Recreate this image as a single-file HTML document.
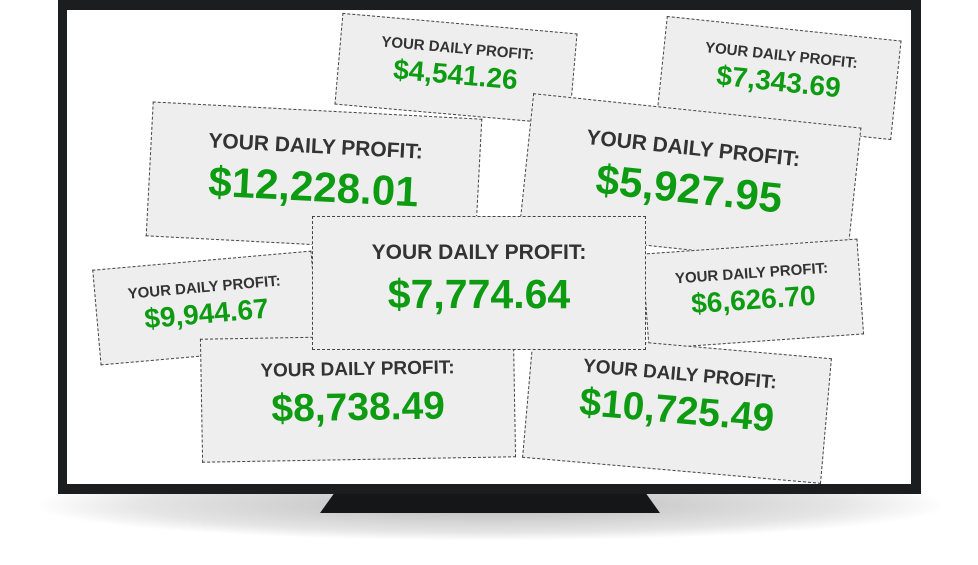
<!DOCTYPE html>
<html><head><meta charset="utf-8"><style>
body{margin:0;width:978px;height:565px;background:#fff;position:relative;overflow:hidden;font-family:"Liberation Sans",Arial,sans-serif}
.shadow{position:absolute;left:40px;top:470px;width:900px;height:70px;background:radial-gradient(ellipse at center,rgba(0,0,0,.28) 0%,rgba(0,0,0,.1) 55%,rgba(0,0,0,0) 72%)}
.bezel{position:absolute;left:58px;top:0;width:863px;height:494px;background:#1b1d1f}
.screen{position:absolute;left:67px;top:10px;width:844px;height:474px;background:#fff;overflow:hidden}
.stand{position:absolute;left:320px;top:494px;width:340px;height:19px;background:#141618;clip-path:polygon(4% 0,96% 0,100% 100%,0 100%)}
.card{position:absolute;background:#eeeeee;border:1px dashed #444;box-sizing:border-box;text-align:center;font-weight:bold}
.card .t{color:#333}
.card .v{color:#0d9b12}
</style></head><body>
<div class="shadow"></div>
<div class="stand"></div>
<div class="bezel"></div>
<div class="screen">
<div class="card" style="left:271px;top:13px;width:236px;height:92px;transform:rotate(5deg)"><div class="t" style="font-size:15px;margin-top:16px">YOUR DAILY PROFIT:</div><div class="v" style="font-size:28px;margin-top:2px">$4,541.26</div></div>
<div class="card" style="left:594px;top:18px;width:236px;height:100px;transform:rotate(6deg)"><div class="t" style="font-size:15px;margin-top:18px">YOUR DAILY PROFIT:</div><div class="v" style="font-size:28px;margin-top:2px">$7,343.69</div></div>
<div class="card" style="left:82px;top:100px;width:330px;height:135px;transform:rotate(3deg)"><div class="t" style="font-size:21px;margin-top:24px">YOUR DAILY PROFIT:</div><div class="v" style="font-size:42px;margin-top:4px">$12,228.01</div></div>
<div class="card" style="left:458px;top:100px;width:330px;height:140px;transform:rotate(6deg)"><div class="t" style="font-size:21px;margin-top:26px">YOUR DAILY PROFIT:</div><div class="v" style="font-size:42px;margin-top:4px">$5,927.95</div></div>
<div class="card" style="left:29px;top:250px;width:220px;height:96px;transform:rotate(-5deg)"><div class="t" style="font-size:15px;margin-top:18px">YOUR DAILY PROFIT:</div><div class="v" style="font-size:28px;margin-top:2px">$9,944.67</div></div>
<div class="card" style="left:578px;top:236px;width:216px;height:96px;transform:rotate(-4deg)"><div class="t" style="font-size:15px;margin-top:18px">YOUR DAILY PROFIT:</div><div class="v" style="font-size:28px;margin-top:2px">$6,626.70</div></div>
<div class="card" style="left:134px;top:326px;width:314px;height:124px;transform:rotate(-1deg)"><div class="t" style="font-size:19px;margin-top:22px">YOUR DAILY PROFIT:</div><div class="v" style="font-size:39px;margin-top:5px">$8,738.49</div></div>
<div class="card" style="left:460px;top:335px;width:300px;height:126px;transform:rotate(5deg)"><div class="t" style="font-size:19px;margin-top:18px">YOUR DAILY PROFIT:</div><div class="v" style="font-size:39px;margin-top:3px">$10,725.49</div></div>
<div class="card" style="left:245px;top:206px;width:334px;height:134px"><div class="t" style="font-size:21px;margin-top:24px">YOUR DAILY PROFIT:</div><div class="v" style="font-size:41px;margin-top:6px">$7,774.64</div></div>
</div>
</body></html>
